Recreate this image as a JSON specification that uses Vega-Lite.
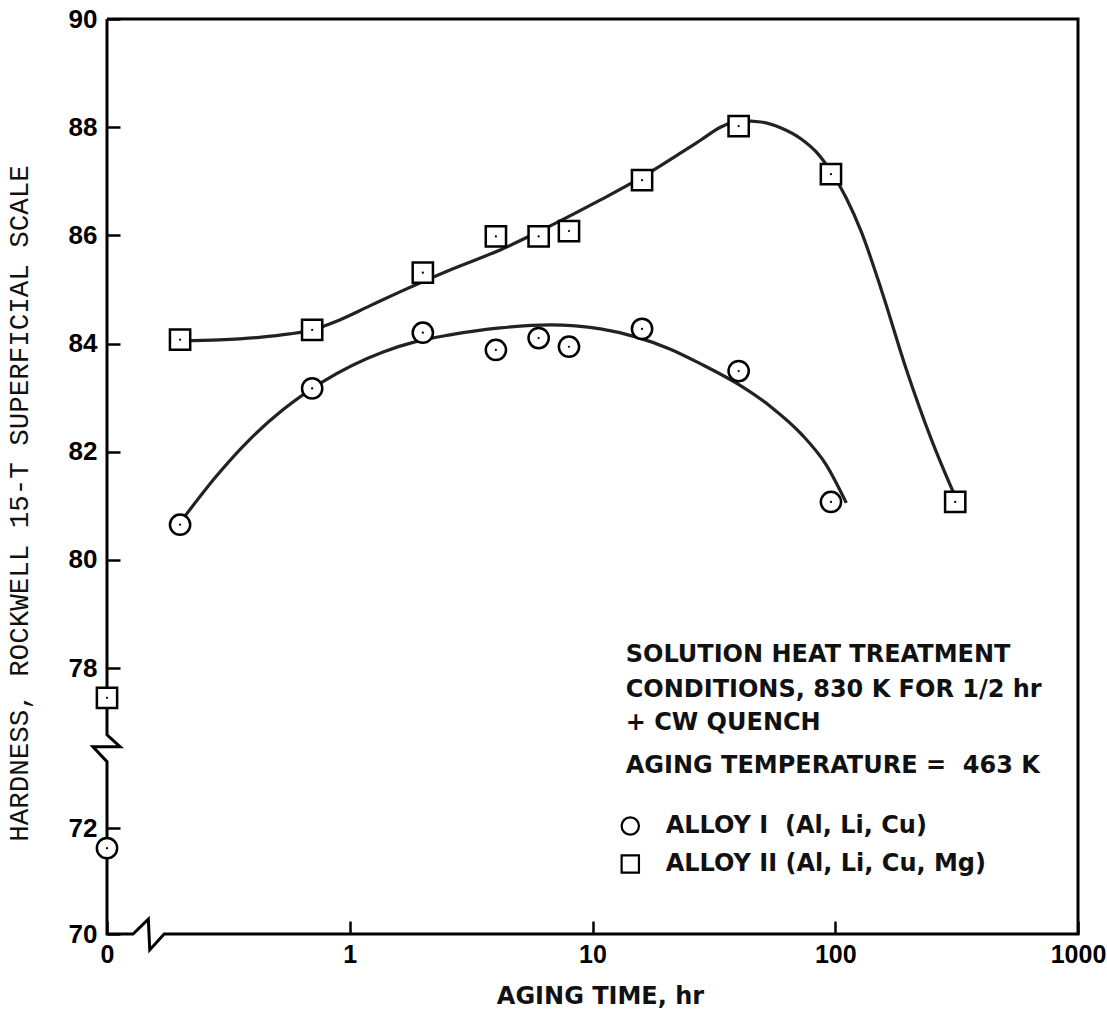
{
  "$schema": "https://vega.github.io/schema/vega-lite/v6.json",
  "width": 971,
  "height": 915,
  "autosize": {"type": "none"},
  "padding": {"left": 107, "top": 19, "right": 29, "bottom": 79},
  "background": "white",
  "config": {"view": {"stroke": null}, "font": "DejaVu Sans"},
  "datasets": {
    "points": [
      {"alloy": "ALLOY I", "t": 0.1, "v": 71.62},
      {"alloy": "ALLOY I", "t": 0.2, "v": 80.65},
      {"alloy": "ALLOY I", "t": 0.7, "v": 83.17},
      {"alloy": "ALLOY I", "t": 2, "v": 84.2},
      {"alloy": "ALLOY I", "t": 4, "v": 83.88},
      {"alloy": "ALLOY I", "t": 6, "v": 84.1},
      {"alloy": "ALLOY I", "t": 8, "v": 83.94},
      {"alloy": "ALLOY I", "t": 16, "v": 84.27},
      {"alloy": "ALLOY I", "t": 40, "v": 83.49},
      {"alloy": "ALLOY I", "t": 96, "v": 81.07},
      {"alloy": "ALLOY II", "t": 0.1, "v": 76.88},
      {"alloy": "ALLOY II", "t": 0.2, "v": 84.07},
      {"alloy": "ALLOY II", "t": 0.7, "v": 84.25},
      {"alloy": "ALLOY II", "t": 2, "v": 85.31},
      {"alloy": "ALLOY II", "t": 4, "v": 85.98},
      {"alloy": "ALLOY II", "t": 6, "v": 85.98},
      {"alloy": "ALLOY II", "t": 8, "v": 86.08},
      {"alloy": "ALLOY II", "t": 16, "v": 87.02},
      {"alloy": "ALLOY II", "t": 40, "v": 88.02},
      {"alloy": "ALLOY II", "t": 96, "v": 87.13},
      {"alloy": "ALLOY II", "t": 312, "v": 81.07}
    ],
    "curves": [
      {"alloy": "ALLOY I", "t": 0.2084, "v": 80.795},
      {"alloy": "ALLOY I", "t": 0.2813, "v": 81.541},
      {"alloy": "ALLOY I", "t": 0.386, "v": 82.22},
      {"alloy": "ALLOY I", "t": 0.5302, "v": 82.773},
      {"alloy": "ALLOY I", "t": 0.7757, "v": 83.296},
      {"alloy": "ALLOY I", "t": 1.373, "v": 83.845},
      {"alloy": "ALLOY I", "t": 1.856, "v": 84.03},
      {"alloy": "ALLOY I", "t": 2.588, "v": 84.159},
      {"alloy": "ALLOY I", "t": 4.166, "v": 84.288},
      {"alloy": "ALLOY I", "t": 6.7, "v": 84.344},
      {"alloy": "ALLOY I", "t": 10.79, "v": 84.27},
      {"alloy": "ALLOY I", "t": 15.05, "v": 84.122},
      {"alloy": "ALLOY I", "t": 20.81, "v": 83.9},
      {"alloy": "ALLOY I", "t": 27.94, "v": 83.623},
      {"alloy": "ALLOY I", "t": 40.89, "v": 83.216},
      {"alloy": "ALLOY I", "t": 54.38, "v": 82.828},
      {"alloy": "ALLOY I", "t": 72.37, "v": 82.329},
      {"alloy": "ALLOY I", "t": 91.79, "v": 81.756},
      {"alloy": "ALLOY I", "t": 111.0, "v": 81.054},
      {"alloy": "ALLOY II", "t": 0.2006, "v": 84.048},
      {"alloy": "ALLOY II", "t": 0.2903, "v": 84.067},
      {"alloy": "ALLOY II", "t": 0.4246, "v": 84.113},
      {"alloy": "ALLOY II", "t": 0.565, "v": 84.177},
      {"alloy": "ALLOY II", "t": 0.6965, "v": 84.251},
      {"alloy": "ALLOY II", "t": 0.9092, "v": 84.436},
      {"alloy": "ALLOY II", "t": 1.209, "v": 84.695},
      {"alloy": "ALLOY II", "t": 1.609, "v": 84.954},
      {"alloy": "ALLOY II", "t": 2.588, "v": 85.36},
      {"alloy": "ALLOY II", "t": 4.166, "v": 85.73},
      {"alloy": "ALLOY II", "t": 6.7, "v": 86.174},
      {"alloy": "ALLOY II", "t": 10.79, "v": 86.654},
      {"alloy": "ALLOY II", "t": 15.79, "v": 87.061},
      {"alloy": "ALLOY II", "t": 23.1, "v": 87.523},
      {"alloy": "ALLOY II", "t": 27.94, "v": 87.763},
      {"alloy": "ALLOY II", "t": 33.81, "v": 88.004},
      {"alloy": "ALLOY II", "t": 40.89, "v": 88.115},
      {"alloy": "ALLOY II", "t": 49.46, "v": 88.096},
      {"alloy": "ALLOY II", "t": 59.83, "v": 87.985},
      {"alloy": "ALLOY II", "t": 72.37, "v": 87.782},
      {"alloy": "ALLOY II", "t": 83.45, "v": 87.542},
      {"alloy": "ALLOY II", "t": 96.28, "v": 87.172},
      {"alloy": "ALLOY II", "t": 111.0, "v": 86.691},
      {"alloy": "ALLOY II", "t": 128.1, "v": 86.063},
      {"alloy": "ALLOY II", "t": 154.9, "v": 84.991},
      {"alloy": "ALLOY II", "t": 196.6, "v": 83.512},
      {"alloy": "ALLOY II", "t": 249.3, "v": 82.218},
      {"alloy": "ALLOY II", "t": 316.2, "v": 81.109}
    ],
    "frame": [
      {"seq": 0, "t": 0.1, "v": 90},
      {"seq": 1, "t": 1000, "v": 90},
      {"seq": 2, "t": 1000, "v": 70},
      {"seq": 3, "t": 0.172, "v": 70},
      {"seq": 4, "t": 0.15, "v": 69.7},
      {"seq": 5, "t": 0.148, "v": 70.28},
      {"seq": 6, "t": 0.128, "v": 70},
      {"seq": 7, "t": 0.1, "v": 70},
      {"seq": 8, "t": 0.1, "v": 74.49},
      {"seq": 9, "t": 0.0875, "v": 75.05},
      {"seq": 10, "t": 0.1132, "v": 75.05},
      {"seq": 11, "t": 0.1, "v": 75.49},
      {"seq": 12, "t": 0.1, "v": 90}
    ],
    "key": [
      {"alloy": "ALLOY I", "t": 14.31, "v": 72.075},
      {"alloy": "ALLOY II", "t": 14.31, "v": 71.32}
    ],
    "notes": [
      {"txt": "SOLUTION HEAT TREATMENT", "t": 13.7, "v": 78.24},
      {"txt": "CONDITIONS, 830 K FOR 1/2 hr", "t": 13.7, "v": 77.19},
      {"txt": "+ CW QUENCH", "t": 13.7, "v": 75.94},
      {"txt": "AGING TEMPERATURE = \u00a0463 K", "t": 13.7, "v": 74.33},
      {"txt": "ALLOY I \u00a0(Al, Li, Cu)", "t": 20.03, "v": 72.075},
      {"txt": "ALLOY II (Al, Li, Cu, Mg)", "t": 20.03, "v": 71.32}
    ]
  },
  "encoding": {
    "x": {
      "field": "t",
      "type": "quantitative",
      "scale": {"type": "log", "domain": [0.1, 1000], "nice": false},
      "axis": {
        "title": "AGING TIME, hr",
        "values": [0.1, 1, 10, 100, 1000],
        "format": "d",
        "domain": false,
        "grid": false,
        "tickSize": -13,
        "tickWidth": 2.5,
        "tickColor": "black",
        "labelPadding": 21,
        "labelFont": "Liberation Sans",
        "labelFontWeight": "bold",
        "labelFontSize": 25,
        "labelColor": "black",
        "labelFlush": false,
        "labelOverlap": false,
        "titleFont": "DejaVu Sans",
        "titleFontWeight": "bold",
        "titleFontSize": 24,
        "titleColor": "#111",
        "titleX": 493,
        "titleY": 69,
        "titleAlign": "center",
        "titleBaseline": "alphabetic"
      }
    },
    "y": {
      "field": "v",
      "type": "quantitative",
      "scale": {"domain": [70, 72, 78, 90], "range": [915, 809, 649, 0], "zero": false, "nice": false},
      "axis": {
        "title": "HARDNESS, ROCKWELL 15-T SUPERFICIAL SCALE",
        "values": [70, 72, 78, 80, 82, 84, 86, 88, 90],
        "domain": false,
        "grid": false,
        "tickSize": -13,
        "tickWidth": 2.5,
        "tickColor": "black",
        "labelPadding": 23,
        "labelFont": "Liberation Sans",
        "labelFontWeight": "bold",
        "labelFontSize": 26,
        "labelColor": "black",
        "labelFlush": false,
        "labelOverlap": false,
        "titleFont": "Liberation Mono",
        "titleFontWeight": "normal",
        "titleFontSize": 27.5,
        "titleColor": "#111",
        "titleX": -88,
        "titleY": 484,
        "titleAngle": 270,
        "titleAlign": "center",
        "titleBaseline": "middle"
      }
    }
  },
  "layer": [
    {
      "data": {"name": "frame"},
      "mark": {"type": "line", "stroke": "black", "strokeWidth": 3, "clip": false},
      "encoding": {"order": {"field": "seq", "type": "quantitative"}}
    },
    {
      "data": {"name": "curves"},
      "mark": {"type": "line", "interpolate": "monotone", "stroke": "#222", "strokeWidth": 3.2},
      "encoding": {"detail": {"field": "alloy", "type": "nominal"}}
    },
    {
      "data": {"name": "points"},
      "mark": {"type": "point", "filled": true, "fill": "white", "stroke": "black", "strokeWidth": 2.5, "size": 410, "opacity": 1},
      "encoding": {
        "shape": {
          "field": "alloy",
          "type": "nominal",
          "scale": {"domain": ["ALLOY I", "ALLOY II"], "range": ["circle", "square"]},
          "legend": null
        }
      }
    },
    {
      "data": {"name": "points"},
      "mark": {"type": "circle", "color": "black", "size": 5, "opacity": 1}
    },
    {
      "data": {"name": "key"},
      "mark": {"type": "point", "filled": true, "fill": "white", "stroke": "black", "strokeWidth": 2.2, "size": 300, "opacity": 1},
      "encoding": {
        "shape": {"field": "alloy", "type": "nominal", "legend": null}
      }
    },
    {
      "data": {"name": "notes"},
      "mark": {"type": "text", "align": "left", "baseline": "middle", "font": "DejaVu Sans", "fontWeight": "bold", "fontSize": 24, "color": "#111"},
      "encoding": {
        "text": {"field": "txt", "type": "nominal"}
      }
    }
  ]
}
